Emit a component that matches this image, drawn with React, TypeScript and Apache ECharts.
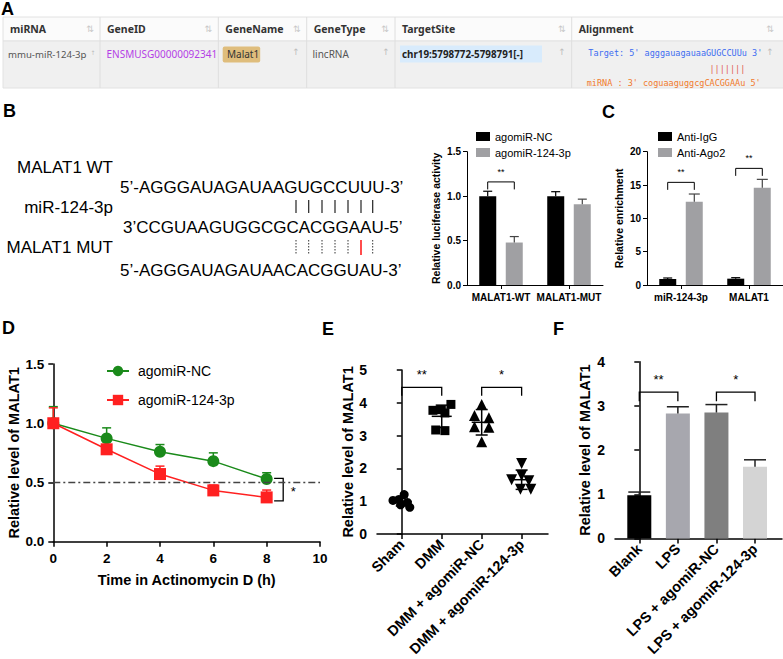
import React, { useEffect, useRef } from "react";
import * as echarts from "echarts";

const ARIAL = "'Liberation Sans', Arial, Helvetica, sans-serif";
const TFONT = "'Noto Sans', 'Open Sans', sans-serif";
const MONO = "'DejaVu Sans Mono', 'Liberation Mono', monospace";

// ---------- Panel A (table) ----------
const tableHeaders = ["miRNA", "GeneID", "GeneName", "GeneType", "TargetSite", "Alignment"];
const tableRow = ["mmu-miR-124-3p", "ENSMUSG00000092341", "Malat1", "lincRNA", "chr19:5798772-5798791[-]"];
const alignTarget = "Target: 5' agggauagauaaGUGCCUUu 3'";
const alignPairs = "|||||||";
const alignMiRNA = "miRNA : 3' coguaaguggcgCACGGAAu 5'";

// ---------- Panel B (sequences) ----------
const seqLabels = ["MALAT1 WT", "miR-124-3p", "MALAT1 MUT"];
const seqWT = "5\u2019-AGGGAUAGAUAAGUGCCUUU-3\u2019";
const seqMiR = "3\u2019CCGUAAGUGGCGCACGGAAU-5\u2019";
const seqMUT = "5\u2019-AGGGAUAGAUAACACGGUAU-3\u2019";

// ---------- Panel B (luciferase) ----------
const bCategories = ["MALAT1-WT", "MALAT1-MUT"];
const bNC = [1.0, 1.0];
const bNCTop = [1.055, 1.05];
const b124 = [0.478, 0.91];
const b124Top = [0.545, 0.966];
const bSig: [number, number, number, string][] = [[0, 0, 1.16, "**"]];

// ---------- Panel C (RIP) ----------
const cCategories = ["miR-124-3p", "MALAT1"];
const cIgG = [0.9, 0.95];
const cIgGTop = [1.05, 1.1];
const cAgo2 = [12.5, 14.6];
const cAgo2Top = [13.65, 15.85];
const cSig: [number, number, number, string][] = [
  [0, 0, 15.4, "**"],
  [1, 1, 17.5, "**"],
];

// ---------- Panel D (stability) ----------
const dTimes = [0, 2, 4, 6, 8];
const dNC = [1.0, 0.872, 0.759, 0.68, 0.529];
const dNCTop = [1.14, 0.961, 0.82, 0.75, 0.582];
const d124 = [1.0, 0.78, 0.571, 0.433, 0.374];
const d124Top = [1.13, 0.8, 0.638, 0.478, 0.436];
const dBracket = [8.28, 8.62, 0.535, 0.345];

// ---------- Panel E (scatter) ----------
const eCategories = ["Sham", "DMM", "DMM + agomiR-NC", "DMM + agomiR-124-3p"];
const eSham = [1.02, 1.05, 1.2, 0.96, 0.89, 0.81];
const eShamJit = [-0.22, -0.07, 0.06, 0.14, -0.03, 0.2];
const eDMM = [3.77, 3.79, 3.95, 3.69, 3.17, 3.15];
const eDMMJit = [-0.22, -0.01, 0.23, 0.08, -0.15, 0.08];
const eNC = [3.95, 3.61, 3.54, 3.27, 3.25, 2.81];
const eNCJit = [0, -0.18, 0.18, -0.18, 0.18, 0];
const e124 = [2.15, 1.65, 1.78, 1.62, 1.36, 1.36];
const e124Jit = [0, -0.25, 0, 0.18, -0.03, 0.23];
const eSig: [number, number, number, string][] = [
  [0, 1, 4.47, "**"],
  [2, 3, 4.47, "*"],
];

// ---------- Panel F (bars) ----------
const fCategories = ["Blank", "LPS", "LPS + agomiR-NC", "LPS + agomiR-124-3p"];
const fValues = [0.98, 2.83, 2.85, 1.62];
const fTop = [1.05, 2.98, 3.03, 1.78];
const fSig: [number, number, number, string][] = [
  [0, 1, 3.31, "**"],
  [2, 3, 3.31, "*"],
];
const fColors = ["#000000", "#a7a7ae", "#7f7f7f", "#d4d4d4"];

// ---------- helpers ----------
const mean = (a: number[]) => a.reduce((s, v) => s + v, 0) / a.length;
const sd = (a: number[]) => {
  const m = mean(a);
  return Math.sqrt(a.reduce((s, v) => s + (v - m) * (v - m), 0) / (a.length - 1));
};

function errRender(offset: number, cap: number, color: string, lw = 1.3) {
  return (params: any, api: any) => {
    const p0 = api.coord([api.value(0), api.value(1)]);
    const p1 = api.coord([api.value(0), api.value(2)]);
    const x = p0[0] + offset;
    return {
      type: "group",
      children: [
        { type: "line", shape: { x1: x, y1: p0[1], x2: x, y2: p1[1] }, style: { stroke: color, lineWidth: lw } },
        { type: "line", shape: { x1: x - cap / 2, y1: p1[1], x2: x + cap / 2, y2: p1[1] }, style: { stroke: color, lineWidth: lw } },
      ],
    };
  };
}

function sigRender(sig: [number, number, number, string][], off1: number, off2: number, drop: number, starSize: number, starGap: number, lw = 1.2) {
  return (params: any, api: any) => {
    const s = sig[params.dataIndex];
    const a = api.coord([s[0], s[2]]);
    const b = api.coord([s[1], s[2]]);
    const x1 = a[0] + off1;
    const x2 = b[0] + off2;
    const y = a[1];
    return {
      type: "group",
      children: [
        { type: "polyline", shape: { points: [[x1, y + drop], [x1, y], [x2, y], [x2, y + drop]] }, style: { stroke: "#000", lineWidth: lw, fill: "none" } },
        { type: "text", x: (x1 + x2) / 2, y: y - starGap, style: { text: s[3], fill: "#000", fontSize: starSize, fontFamily: ARIAL, align: "center", verticalAlign: "middle" } },
      ],
    };
  };
}

function buildGraphic() {
  const colX = [3, 100, 218.3, 306.7, 395, 571.7, 790];
  const g: any[] = [];
  const letter = (t: string, x: number, y: number) =>
    g.push({ type: "text", x, y, style: { text: t, fill: "#000", fontSize: 18, fontWeight: "bold", fontFamily: ARIAL } });
  letter("A", 1, 0);
  letter("B", 3, 102);
  letter("C", 602, 103);
  letter("D", 2, 319);
  letter("E", 322, 320);
  letter("F", 553, 320);

  // table
  g.push({ type: "rect", shape: { x: 3, y: 17, width: 787, height: 24 }, style: { fill: "#fbfbfb", stroke: "#e2e2e2", lineWidth: 1 } });
  g.push({ type: "rect", shape: { x: 3, y: 41, width: 787, height: 47 }, style: { fill: "#f0f0f0", stroke: "#e2e2e2", lineWidth: 1 } });
  for (let i = 1; i < colX.length - 1; i++) {
    g.push({ type: "line", shape: { x1: colX[i], y1: 17, x2: colX[i], y2: 88 }, style: { stroke: "#dedede", lineWidth: 1 } });
  }
  tableHeaders.forEach((h, i) => {
    g.push({ type: "text", x: colX[i] + 7, y: 29, style: { text: h, fill: "#333", fontSize: 10.5, fontWeight: "bold", fontFamily: TFONT, verticalAlign: "middle" } });
    const ix = i === tableHeaders.length - 1 ? 770 : colX[i + 1] - 10;
    g.push({ type: "text", x: ix, y: 29, style: { text: "\u21c5", fill: "#c8c8c8", fontSize: 9, fontFamily: "'DejaVu Sans', sans-serif", align: "center", verticalAlign: "middle" } });
  });
  const rowY = 54;
  g.push({ type: "text", x: 8, y: rowY, style: { text: tableRow[0], fill: "#555", fontSize: 9.6, fontFamily: TFONT, verticalAlign: "middle" } });
  g.push({ type: "text", x: 106.5, y: rowY, style: { text: tableRow[1], fill: "#b43ee6", fontSize: 10, fontFamily: TFONT, verticalAlign: "middle" } });
  g.push({ type: "rect", shape: { x: 222.7, y: 46.5, width: 37.5, height: 16, r: 2 }, style: { fill: "#dfbd7c" } });
  g.push({ type: "text", x: 227, y: rowY, style: { text: tableRow[2], fill: "#333", fontSize: 10, fontFamily: TFONT, verticalAlign: "middle" } });
  g.push({ type: "text", x: 312.5, y: rowY, style: { text: tableRow[3], fill: "#555", fontSize: 10, fontFamily: TFONT, verticalAlign: "middle" } });
  g.push({ type: "rect", shape: { x: 400, y: 45.5, width: 142, height: 17 }, style: { fill: "#d8ebfc" } });
  g.push({ type: "text", x: 402, y: rowY, style: { text: tableRow[4], fill: "#222", fontSize: 9.8, fontWeight: "bold", fontFamily: TFONT, verticalAlign: "middle" } });
  [93, 296, 386, 562, 770].forEach((x) =>
    g.push({ type: "text", x, y: rowY - 2, style: { text: "\u2191", fill: "#bdbdbd", fontSize: x === 93 ? 6 : 9, fontFamily: "'DejaVu Sans', sans-serif", align: "center", verticalAlign: "middle" } })
  );
  g.push({ type: "text", x: 588.3, y: 53, style: { text: alignTarget, fill: "#3c6cf0", fontSize: 8.5, fontFamily: MONO, verticalAlign: "middle" } });
  g.push({ type: "text", x: 709.5, y: 69, style: { text: alignPairs, fill: "#e25a50", fontSize: 8.5, fontFamily: MONO, verticalAlign: "middle" } });
  g.push({ type: "text", x: 586.7, y: 83, style: { text: alignMiRNA, fill: "#f07a2c", fontSize: 8.5, fontFamily: MONO, verticalAlign: "middle" } });

  // sequences
  const seqFont = { fill: "#000", fontSize: 17, fontFamily: ARIAL, verticalAlign: "middle" };
  [167, 207, 247].forEach((y, i) =>
    g.push({ type: "text", x: 113, y, style: { ...seqFont, text: seqLabels[i], align: "right" } })
  );
  g.push({ type: "text", x: 120, y: 187, style: { ...seqFont, text: seqWT } });
  g.push({ type: "text", x: 123, y: 227, style: { ...seqFont, text: seqMiR } });
  g.push({ type: "text", x: 120, y: 270, style: { ...seqFont, text: seqMUT } });
  const pairX = [296, 308.7, 322, 335, 348, 361, 372.7];
  pairX.forEach((x, i) => {
    g.push({ type: "line", shape: { x1: x, y1: 200, x2: x, y2: 213 }, style: { stroke: "#222", lineWidth: 1.2 } });
    const red = i === 5;
    g.push({
      type: "line",
      shape: { x1: x, y1: 240, x2: x, y2: 255 },
      style: { stroke: red ? "#ff0000" : "#333", lineWidth: red ? 1.4 : 1, lineDash: red ? null : [1.5, 1.5] },
    });
  });
  return g;
}

function baseAxisStyle(width: number) {
  return {
    axisLine: { show: true, lineStyle: { color: "#000", width } },
    axisTick: { show: true, length: 5, lineStyle: { color: "#000", width } },
    splitLine: { show: false },
  };
}

function buildOption() {
  const smallLabel = { color: "#000", fontWeight: "bold", fontSize: 10, fontFamily: ARIAL };
  const bigLabel = { color: "#000", fontWeight: "bold", fontSize: 13.5, fontFamily: ARIAL };
  const BOFF = 13.3;

  const eGroups = [
    { vals: eSham, jit: eShamJit, symbol: "circle", rot: 0, size: 9 },
    { vals: eDMM, jit: eDMMJit, symbol: "rect", rot: 0, size: 9 },
    { vals: eNC, jit: eNCJit, symbol: "triangle", rot: 0, size: 11 },
    { vals: e124, jit: e124Jit, symbol: "triangle", rot: 180, size: 11 },
  ];

  return {
    animation: false,
    graphic: buildGraphic(),
    legend: [
      {
        left: 471, top: 126, orient: "vertical", itemWidth: 14, itemHeight: 9, itemGap: 5, icon: "rect", selectedMode: false,
        data: ["agomiR-NC", "agomiR-124-3p"], textStyle: { color: "#000", fontSize: 11, fontFamily: ARIAL },
      },
      {
        left: 653, top: 126, orient: "vertical", itemWidth: 14, itemHeight: 9, itemGap: 5, icon: "rect", selectedMode: false,
        data: ["Anti-IgG", "Anti-Ago2"], textStyle: { color: "#000", fontSize: 11, fontFamily: ARIAL },
      },
      {
        left: 101, top: 359, orient: "vertical", itemWidth: 22, itemHeight: 13, itemGap: 15, selectedMode: false,
        data: ["agomiR-NC ", "agomiR-124-3p "], textStyle: { color: "#000", fontSize: 14, fontFamily: ARIAL, padding: [0, 0, 0, 4] },
      },
    ],
    grid: [
      { left: 467, top: 151.7, width: 136, height: 133.3 },
      { left: 647, top: 151.7, width: 136, height: 133.3 },
      { left: 53.3, top: 364, width: 266.7, height: 177.7 },
      { left: 377, top: 370, width: 171, height: 171.5 },
      { left: 615, top: 361.7, width: 167, height: 180 },
    ],
    xAxis: [
      {
        gridIndex: 0, type: "category", data: bCategories, ...baseAxisStyle(1),
        axisTick: { show: true, alignWithLabel: true, length: 4, lineStyle: { color: "#000", width: 1 } },
        axisLabel: { ...smallLabel, margin: 7, interval: 0 },
      },
      {
        gridIndex: 1, type: "category", data: cCategories, ...baseAxisStyle(1),
        axisTick: { show: true, alignWithLabel: true, length: 4, lineStyle: { color: "#000", width: 1 } },
        axisLabel: { ...smallLabel, margin: 7, interval: 0 },
      },
      {
        gridIndex: 2, type: "value", min: 0, max: 10, interval: 2, ...baseAxisStyle(1.5),
        axisLabel: { ...bigLabel, margin: 10 },
        name: "Time in Actinomycin D (h)", nameLocation: "middle", nameGap: 31,
        nameTextStyle: { color: "#000", fontWeight: "bold", fontSize: 14.5, fontFamily: ARIAL },
      },
      {
        gridIndex: 3, type: "value", min: -0.62, max: 3.66, ...baseAxisStyle(1.5),
        axisTick: { show: true, length: 5, customValues: [0, 1, 2, 3], lineStyle: { color: "#000", width: 1.5 } },
        axisLabel: { ...bigLabel, fontSize: 14.5, rotate: 45, margin: 8, customValues: [0, 1, 2, 3], formatter: (v: number) => eCategories[Math.round(v)] ?? "" },
      },
      {
        gridIndex: 4, type: "value", min: -0.63, max: 3.7, ...baseAxisStyle(1.5),
        axisTick: { show: true, length: 5, customValues: [0, 1, 2, 3], lineStyle: { color: "#000", width: 1.5 } },
        axisLabel: { ...bigLabel, fontSize: 14.5, rotate: 45, margin: 8, customValues: [0, 1, 2, 3], formatter: (v: number) => fCategories[Math.round(v)] ?? "" },
      },
    ],
    yAxis: [
      {
        gridIndex: 0, type: "value", min: 0, max: 1.5, interval: 0.5, ...baseAxisStyle(1),
        axisTick: { show: true, length: 4, lineStyle: { color: "#000", width: 1 } },
        axisLabel: { ...smallLabel, margin: 6, formatter: (v: number) => v.toFixed(1) },
        name: "Relative luciferase activity", nameLocation: "middle", nameGap: 26,
        nameTextStyle: { color: "#000", fontWeight: "bold", fontSize: 10.5, fontFamily: ARIAL },
      },
      {
        gridIndex: 1, type: "value", min: 0, max: 20, interval: 5, ...baseAxisStyle(1),
        axisTick: { show: true, length: 4, lineStyle: { color: "#000", width: 1 } },
        axisLabel: { ...smallLabel, margin: 6 },
        name: "Relative enrichment", nameLocation: "middle", nameGap: 23,
        nameTextStyle: { color: "#000", fontWeight: "bold", fontSize: 10.5, fontFamily: ARIAL },
      },
      {
        gridIndex: 2, type: "value", min: 0, max: 1.5, interval: 0.5, ...baseAxisStyle(1.5),
        axisLabel: { ...bigLabel, margin: 9, formatter: (v: number) => v.toFixed(1) },
        name: "Relative level of MALAT1", nameLocation: "middle", nameGap: 32,
        nameTextStyle: { color: "#000", fontWeight: "bold", fontSize: 14.5, fontFamily: ARIAL },
      },
      {
        gridIndex: 3, type: "value", min: 0, max: 5, interval: 1, ...baseAxisStyle(1.5),
        axisLabel: { ...bigLabel, fontSize: 14, margin: 10 },
        name: "Relative level of MALAT1", nameLocation: "middle", nameGap: 22,
        nameTextStyle: { color: "#000", fontWeight: "bold", fontSize: 14.5, fontFamily: ARIAL },
      },
      {
        gridIndex: 4, type: "value", min: 0, max: 4, interval: 1, ...baseAxisStyle(1.5),
        axisLabel: { ...bigLabel, fontSize: 14, margin: 10 },
        name: "Relative level of MALAT1", nameLocation: "middle", nameGap: 23,
        nameTextStyle: { color: "#000", fontWeight: "bold", fontSize: 14.5, fontFamily: ARIAL },
      },
    ],
    series: [
      // B
      { name: "agomiR-NC", type: "bar", xAxisIndex: 0, yAxisIndex: 0, data: bNC, barWidth: 17, barGap: "56%", itemStyle: { color: "#000" } },
      { name: "agomiR-124-3p", type: "bar", xAxisIndex: 0, yAxisIndex: 0, data: b124, barWidth: 17, barGap: "56%", itemStyle: { color: "#a0a0a3" } },
      { type: "custom", xAxisIndex: 0, yAxisIndex: 0, data: bNC.map((v, i) => [i, v, bNCTop[i]]), renderItem: errRender(-BOFF, 9, "#000", 1.2), z: 3 },
      { type: "custom", xAxisIndex: 0, yAxisIndex: 0, data: b124.map((v, i) => [i, v, b124Top[i]]), renderItem: errRender(BOFF, 9, "#444", 1.2), z: 3 },
      { type: "custom", xAxisIndex: 0, yAxisIndex: 0, data: bSig.map((s) => [s[0], s[2]]), renderItem: sigRender(bSig, -BOFF, BOFF, 7.5, 9, 10, 1), z: 3 },
      // C
      { name: "Anti-IgG", type: "bar", xAxisIndex: 1, yAxisIndex: 1, data: cIgG, barWidth: 17, barGap: "56%", itemStyle: { color: "#000" } },
      { name: "Anti-Ago2", type: "bar", xAxisIndex: 1, yAxisIndex: 1, data: cAgo2, barWidth: 17, barGap: "56%", itemStyle: { color: "#a0a0a3" } },
      { type: "custom", xAxisIndex: 1, yAxisIndex: 1, data: cIgG.map((v, i) => [i, v, cIgGTop[i]]), renderItem: errRender(-BOFF, 9, "#000", 1.2), z: 3 },
      { type: "custom", xAxisIndex: 1, yAxisIndex: 1, data: cAgo2.map((v, i) => [i, v, cAgo2Top[i]]), renderItem: errRender(BOFF, 11, "#444", 1.2), z: 3 },
      { type: "custom", xAxisIndex: 1, yAxisIndex: 1, data: cSig.map((s) => [s[0], s[2]]), renderItem: sigRender(cSig, -BOFF, BOFF, 7.5, 9, 10, 1), z: 3 },
      // D
      {
        type: "custom", xAxisIndex: 2, yAxisIndex: 2, data: dTimes.map((t, i) => [t, dNC[i], dNCTop[i]]),
        renderItem: errRender(0, 9, "#1a8a1a", 1.5), z: 1,
      },
      {
        type: "custom", xAxisIndex: 2, yAxisIndex: 2, data: dTimes.map((t, i) => [t, d124[i], d124Top[i]]),
        renderItem: errRender(0, 9, "#ff2020", 1.5), z: 1,
      },
      {
        name: "agomiR-NC ", type: "line", xAxisIndex: 2, yAxisIndex: 2, data: dTimes.map((t, i) => [t, dNC[i]]),
        symbol: "circle", symbolSize: 12, lineStyle: { color: "#1a8a1a", width: 1.5 }, itemStyle: { color: "#1a8a1a" }, z: 2,
        markLine: {
          silent: true, symbol: "none", label: { show: false },
          lineStyle: { type: [7, 3, 2, 3], color: "#444", width: 1.3 },
          data: [{ yAxis: 0.5 }],
        },
      },
      {
        name: "agomiR-124-3p ", type: "line", xAxisIndex: 2, yAxisIndex: 2, data: dTimes.map((t, i) => [t, d124[i]]),
        symbol: "rect", symbolSize: 12, lineStyle: { color: "#ff2020", width: 1.5 }, itemStyle: { color: "#ff2020" }, z: 3,
      },
      {
        type: "custom", xAxisIndex: 2, yAxisIndex: 2, data: [[dBracket[0], dBracket[2]]],
        renderItem: (params: any, api: any) => {
          const a = api.coord([dBracket[0], dBracket[2]]);
          const b = api.coord([dBracket[1], dBracket[3]]);
          return {
            type: "group",
            children: [
              { type: "polyline", shape: { points: [[a[0], a[1]], [b[0], a[1]], [b[0], b[1]], [a[0], b[1]]] }, style: { stroke: "#000", lineWidth: 1.3, fill: "none" } },
              { type: "text", x: b[0] + 10, y: (a[1] + b[1]) / 2 + 2, style: { text: "*", fill: "#000", fontSize: 13, fontFamily: ARIAL, align: "center", verticalAlign: "middle" } },
            ],
          };
        },
      },
      // E
      ...eGroups.map((grp, gi) => ({
        type: "scatter", xAxisIndex: 3, yAxisIndex: 3,
        data: grp.vals.map((v, k) => [gi + grp.jit[k], v]),
        symbol: grp.symbol, symbolRotate: grp.rot, symbolSize: grp.size, itemStyle: { color: "#000", opacity: 1 }, z: 2,
      })),
      {
        type: "custom", xAxisIndex: 3, yAxisIndex: 3,
        data: eGroups.map((grp, gi) => [gi, mean(grp.vals), sd(grp.vals)]),
        renderItem: (params: any, api: any) => {
          const x = api.value(0), m = api.value(1), s = api.value(2);
          const pm = api.coord([x, m]);
          const pu = api.coord([x, m + s]);
          const pl = api.coord([x, m - s]);
          const st = { stroke: "#000", lineWidth: 1.5 };
          return {
            type: "group",
            children: [
              { type: "line", shape: { x1: pm[0] - 10, y1: pm[1], x2: pm[0] + 10, y2: pm[1] }, style: st },
              { type: "line", shape: { x1: pm[0], y1: pu[1], x2: pm[0], y2: pl[1] }, style: st },
              { type: "line", shape: { x1: pm[0] - 6, y1: pu[1], x2: pm[0] + 6, y2: pu[1] }, style: st },
              { type: "line", shape: { x1: pm[0] - 6, y1: pl[1], x2: pm[0] + 6, y2: pl[1] }, style: st },
            ],
          };
        },
        z: 3,
      },
      { type: "custom", xAxisIndex: 3, yAxisIndex: 3, data: eSig.map((s) => [s[0], s[2]]), renderItem: sigRender(eSig, 0, 0, 8.4, 13, 13, 1.3), z: 3 },
      // F
      {
        type: "bar", xAxisIndex: 4, yAxisIndex: 4, barWidth: 24,
        data: fValues.map((v, i) => ({ value: [i, v], itemStyle: { color: fColors[i] } })),
      },
      { type: "custom", xAxisIndex: 4, yAxisIndex: 4, data: fValues.map((v, i) => [i, v, fTop[i]]), renderItem: errRender(0, 22, "#222", 1.5), z: 3 },
      { type: "custom", xAxisIndex: 4, yAxisIndex: 4, data: fSig.map((s) => [s[0], s[2]]), renderItem: sigRender(fSig, 0, 0, 9, 13, 13, 1.3), z: 3 },
    ],
  };
}

export default function App() {
  const ref = useRef<HTMLDivElement>(null);
  useEffect(() => {
    document.body.style.margin = "0";
    const chart = echarts.init(ref.current!, null, { renderer: "svg" });
    chart.setOption(buildOption() as any);
    return () => chart.dispose();
  }, []);
  return <div ref={ref} style={{ width: 783, height: 659, background: "#fff" }} />;
}
